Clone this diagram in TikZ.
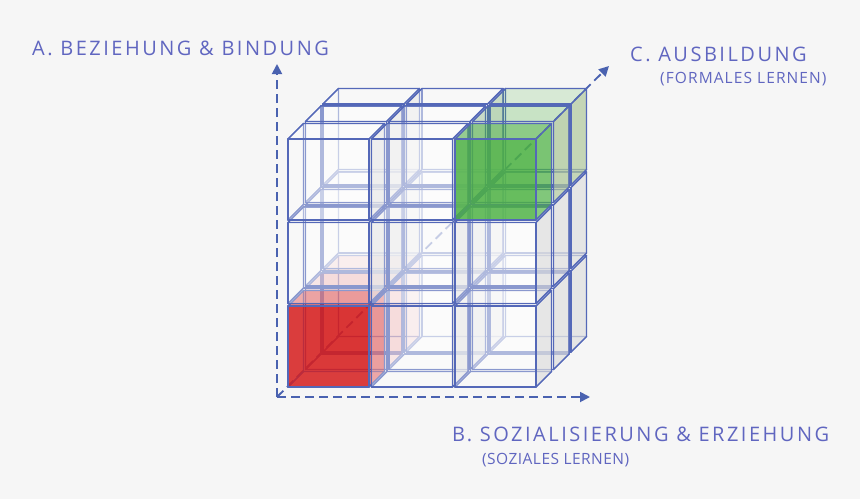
\documentclass[tikz,border=0pt]{standalone}
\usepackage{fontspec}
\setmainfont{Open Sans}
\newfontfamily\labelfont[LetterSpace=12.5]{Open Sans}
\newfontfamily\sublabelfont[LetterSpace=3]{Open Sans}
\newfontfamily\widesublabelfont[LetterSpace=7]{Open Sans}
\usetikzlibrary{arrows.meta}

\definecolor{bggray}{RGB}{246,246,246}
\definecolor{axisblue}{RGB}{74,98,176}
\definecolor{edgeblue}{RGB}{84,104,184}
\definecolor{labelblue}{RGB}{96,102,192}
\definecolor{sidegray}{RGB}{222,222,222}
\definecolor{cubered}{RGB}{214,28,28}
\definecolor{cubegreen}{RGB}{76,178,66}
\definecolor{greengray}{RGB}{176,200,156}

\tikzset{
  cubeback/.style={fill opacity=0},
  cubeside/.style={},
  cubetop/.style={},
  cubefront/.style={},
  cubelook/.style={}
}

% one small cube: column, row, layer (layer 0 = front)
\newcommand{\cubelet}[3]{%
  \begin{scope}[shift={(288+83.5*#1+17.5*#3,387-83.5*#2-17.5*#3)},cubelook]
    \filldraw[cubeedge,cubeback] (15.5,-15.5) rectangle (96.5,-96.5);
    \filldraw[cubeedge,cubeback] (0,0) -- (15.5,-15.5) -- (15.5,-96.5) -- (0,-81) -- cycle;
    \filldraw[cubeedge,cubeback] (0,0) -- (81,0) -- (96.5,-15.5) -- (15.5,-15.5) -- cycle;
    \filldraw[cubeedge,cubeside] (81,0) -- (96.5,-15.5) -- (96.5,-96.5) -- (81,-81) -- cycle;
    \filldraw[cubeedge,cubetop] (0,-81) -- (81,-81) -- (96.5,-96.5) -- (15.5,-96.5) -- cycle;
    \filldraw[cubeedge,cubefront] (0,0) rectangle (81,-81);
  \end{scope}}

\begin{document}
\begin{tikzpicture}[x=1pt,y=1pt,yscale=-1,xscale=1,
  cubeedge/.style={draw=edgeblue,line width=1.3pt,line join=round},
  plaincube/.style={cubeback/.style={fill opacity=0},cubeside/.style={fill=sidegray,fill opacity=0.7},
    cubetop/.style={fill=white,fill opacity=0.32},cubefront/.style={fill=white,fill opacity=0.32}},
  redstrong/.style={cubeback/.style={fill=cubered,fill opacity=0.3},cubeside/.style={fill=cubered,fill opacity=0.35},
    cubetop/.style={fill=cubered,fill opacity=0.3},cubefront/.style={fill=cubered,fill opacity=0.78}},
  redlight/.style={cubeback/.style={fill opacity=0},cubeside/.style={fill=cubered,fill opacity=0.2},
    cubetop/.style={fill=cubered,fill opacity=0.2},cubefront/.style={fill=cubered,fill opacity=0.12}},
  greenstrong/.style={cubeback/.style={fill=cubegreen,fill opacity=0.3},cubeside/.style={fill=cubegreen,fill opacity=0.5},
    cubetop/.style={fill=cubegreen,fill opacity=0.3},cubefront/.style={fill=cubegreen,fill opacity=0.75}},
  greenlight/.style={cubeback/.style={fill opacity=0},cubeside/.style={fill=greengray,fill opacity=0.7},
    cubetop/.style={fill=cubegreen,fill opacity=0.18},cubefront/.style={fill=cubegreen,fill opacity=0.1}},
  axis/.style={draw=axisblue,line width=1.8pt,dash pattern=on 9pt off 5pt,-{Triangle[length=10pt,width=10pt]}},
  biglabel/.style={text=labelblue,inner sep=0pt,anchor=base west,font=\labelfont\fontsize{20}{24}\selectfont},
  smalllabel/.style={text=labelblue,inner sep=0pt,anchor=base west,font=\sublabelfont\fontsize{15.5}{18}\selectfont}
]
%uncomment if require: \path (0,499); %set diagram left start at 0, and has height of 499
\fill[bggray] (0,0) rectangle (860,499);

%Shape: Axes
\coordinate (O) at (277,397);
\coordinate (axA) at (277,64);
\coordinate (axB) at (590,397);
\coordinate (axC) at (609,66);
\draw[axis] (O) -- (axA);
\draw[axis] (O) -- (axB);
\draw[axis] (O) -- (axC);

%Shape: Cubes, back layer first
\foreach \k in {2,1,0}
  \foreach \i in {0,1,2}
    \foreach \j in {0,1,2}{
      \tikzset{cubelook/.style={plaincube}}
      \ifnum\i=0 \ifnum\j=0
        \ifnum\k=0 \tikzset{cubelook/.style={redstrong}}\else\tikzset{cubelook/.style={redlight}}\fi
      \fi\fi
      \ifnum\i=2 \ifnum\j=2
        \ifnum\k=0 \tikzset{cubelook/.style={greenstrong}}\else\tikzset{cubelook/.style={greenlight}}\fi
      \fi\fi
      \cubelet{\i}{\j}{\k}
    }

% Text Node
\node[biglabel] (labA) at (32,55) {A. BEZIEHUNG \& BINDUNG};
% Text Node
\node[biglabel] (labB) at (452,441) {B. SOZIALISIERUNG \& ERZIEHUNG};
% Text Node
\node[smalllabel] (subB) at (482,464) {(SOZIALES LERNEN)};
% Text Node
\node[biglabel] (labC) at (630,61) {C. AUSBILDUNG};
% Text Node
\node[smalllabel,font=\widesublabelfont\fontsize{15.5}{18}\selectfont] (subC) at (660,83) {(FORMALES LERNEN)};

\end{tikzpicture}
\end{document}
